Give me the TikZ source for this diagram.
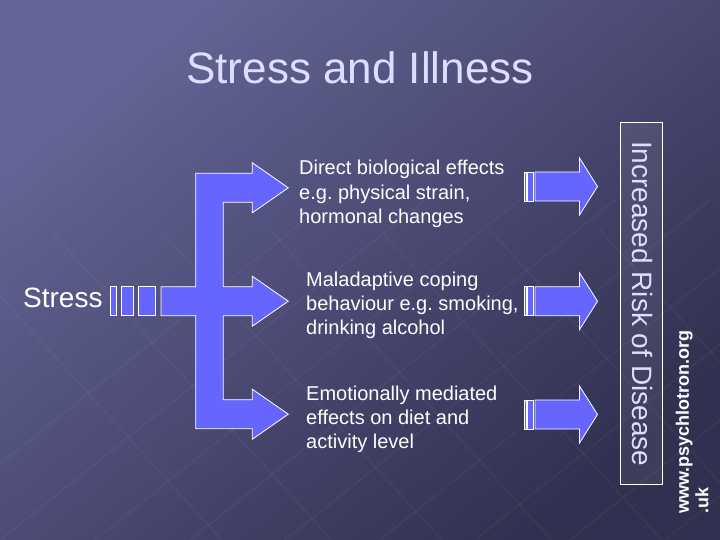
\documentclass[tikz,border=0pt]{standalone}
\usepackage{fontspec}
\setmainfont{Liberation Sans}
\usepackage{tikz}
\definecolor{slidetop}{RGB}{100,100,150}
\definecolor{slidebottom}{RGB}{48,48,80}
\definecolor{arrowblue}{RGB}{102,102,255}
\definecolor{titlelilac}{RGB}{221,221,255}
\frenchspacing

\begin{document}
\begin{tikzpicture}[
  x=1pt, y=-1pt,
  fork/.style={draw=white, line width=0.8pt, fill=arrowblue, line join=miter},
  stripe/.style={draw=white, line width=0.8pt, fill=arrowblue},
  effect/.style={anchor=base west, align=left, inner sep=0pt, text=white, font=\fontsize{20}{24}\selectfont},
  riskbox/.style={draw=white, line width=0.8pt, fill=white, fill opacity=0.07}
]

% Background
\shade[top color=slidetop, bottom color=slidebottom, shading angle=40] (0,0) rectangle (720,540);
\useasboundingbox (0,0) rectangle (720,540);
\begin{scope}[draw=white, opacity=0.04, line width=1.5pt]
  \foreach \i in {0,...,8} \draw (-120+\i*95,560) -- (330+\i*95,200);
  \foreach \i in {0,...,6} \draw (-60+\i*110,230) -- (240+\i*110,560);
\end{scope}

% Title
\node[text=titlelilac, font=\fontsize{44}{52}\selectfont, anchor=base] (title) at (360,84) {Stress and Illness};

% Stress and its stripes
\node[anchor=base west, inner sep=0pt, text=white, font=\fontsize{28}{32}\selectfont] (stress) at (23,307.5) {Stress};
\draw[stripe] (110,286.7) rectangle (116.7,315.7);
\draw[stripe] (121,286.7) rectangle (133.3,315.7);
\draw[stripe] (138.3,286.7) rectangle (155.7,315.7);

% Fork arrow
\draw[fork] (195.7,173.3) -- (252.3,173.3) -- (252.3,162.8) -- (288.3,187.8) -- (252.3,212.8) -- (252.3,202.3)
  -- (223.3,202.3) -- (223.3,286.7) -- (252.3,286.7) -- (252.3,276.2) -- (288.3,301.2) -- (252.3,326.2) -- (252.3,315.7)
  -- (223.3,315.7) -- (223.3,399.7) -- (252.3,399.7) -- (252.3,389.2) -- (288.3,414.2) -- (252.3,439.2) -- (252.3,428.7)
  -- (195.7,428.7) -- (195.7,315.7) -- (161,315.7) -- (161,286.7) -- (195.7,286.7) -- cycle;

% Effects (base = last line)
\node[effect] (biological) at (299,223) {Direct biological effects\\e.g. physical strain,\\hormonal changes};
\node[effect] (coping) at (306,334.7) {Maladaptive coping\\behaviour e.g. smoking,\\drinking alcohol};
\node[effect] (emotional) at (306,448.7) {Emotionally mediated\\effects on diet and\\activity level};

% Striped arrows
\foreach \c in {186.5,301.2,414.5} {
  \draw[stripe] (524.3,\c-14.5) rectangle (526.7,\c+14.5);
  \draw[stripe] (527.7,\c-14.5) rectangle (533.3,\c+14.5);
  \draw[stripe] (535,\c-14.5) -- (579.5,\c-14.5) -- (579.5,\c-28.5) -- (597.5,\c)
    -- (579.5,\c+28.5) -- (579.5,\c+14.5) -- (535,\c+14.5) -- cycle;
}

% Outcome
\draw[riskbox] (620.7,122.3) rectangle (662.3,484.3);
\node[rotate=-90, anchor=base, inner sep=0pt, text=titlelilac, font=\fontsize{28}{32}\selectfont] (risk) at (632.5,303.7) {Increased Risk of Disease};

% Source
\node[rotate=90, anchor=base west, align=left, inner sep=0pt, text=white, font=\fontsize{18}{19.5}\bfseries] (url) at (708.3,514) {www.psychlotron.org\\.uk};

\end{tikzpicture}
\end{document}
